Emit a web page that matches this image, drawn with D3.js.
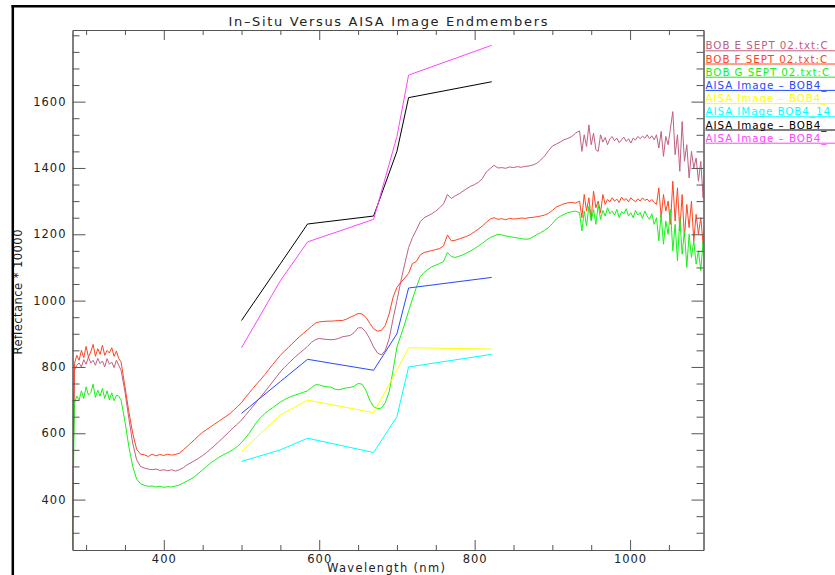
<!DOCTYPE html>
<html>
<head>
<meta charset="utf-8">
<script src="https://cdn.jsdelivr.net/npm/d3@7"></script>
<style>
  body { margin: 0; background: #fff; overflow: hidden; }
  svg text { font-family: 'DejaVu Sans', sans-serif; }
</style>
</head>
<body>
<svg id="chart" width="835" height="575"></svg>
<script>
// wavelengths (nm) of the field spectra
const wlUV = [282,285,288,291,294,297,300,303,306,309,312,315,318,321,324,327,330,333,336,339,342,345];
const wlVis = [350,355,360,365,370,375,380,385,390,395, 400,405,410,415,420,425,430,435,440,445,
  450,455,460,465,470,475,480,485,490,495, 500,505,510,515,520,525,530,535,540,545,
  550,555,560,565,570,575,580,585,590,595, 600,605,610,615,620,625,630,635,640,645,
  650,655,660,665,670,675,680,685,690,695, 700,705,710,715,720,725,730,735,740,745,
  750,755,760,765,770,775,780,785,790,795, 800,805,810,815,820,825,830,835,840,845,
  850,855,860,865,870,875,880,885,890,895, 900,905,910,915,920,925,930,935];
const wlNIR = [938,941,944,947,950,953,956,959,962,965, 968,971,974,977,980,983,986,989,992,995,
  998,1001,1004,1007,1010,1013,1016,1019,1022,1025, 1028,1031,1034,1037,1040,1043,1046,1049,1052,1055,
  1058,1061,1064,1067,1070,1073,1076,1079,1082,1085, 1088,1091,1094,1096];
const wavelengths = wlUV.concat(wlVis, wlNIR);

// reflectance * 10000
const bobE = [
  260,790,805,812,800,822,808,830,812,820,805,826,810,818,800,825,808,815,798,820,805,790,
  725,645,570,520,500,495,492,490,492,488, 490,487,490,486,490,496,505,511,518,525,
  533,542,552,562,573,584,595,607,618,628, 640,654,668,682,697,711,725,740,755,770,
  785,798,810,821,832,842,852,862,874,882, 886,884,883,882,883,886,891,893,895,904,
  918,918,905,885,860,842,836,850,885,945, 1000,1058,1110,1160,1190,1213,1238,1250,1256,1262,
  1270,1280,1292,1320,1308,1316,1322,1330,1338,1345, 1350,1357,1368,1388,1398,1408,1400,1401,1399,1403,
  1401,1404,1402,1405,1406,1409,1414,1424,1436,1452, 1466,1472,1478,1485,1489,1495,1505,1512,
  1450,1500,1465,1530,1470,1505,1455,1450,1500,1478, 1492,1470,1488,1495,1482,1490,1476,1485,1493,1480,
  1488,1475,1490,1484,1495,1488,1496,1490,1500,1488, 1497,1485,1500,1460,1510,1435,1495,1470,1520,1570,
  1440,1500,1390,1540,1420,1470,1370,1450,1400,1430, 1360,1420,1310,1420];
const bobF = [
  240,810,835,820,850,828,862,830,845,868,832,855,838,865,835,850,842,858,832,848,825,815,
  740,665,600,552,537,535,530,537,532,536, 533,537,534,536,540,550,560,571,582,593,
  603,611,619,627,635,643,651,659,670,681, 692,708,722,736,750,763,777,792,807,821,
  835,847,858,870,881,892,902,912,922,932, 936,937,938,938,939,940,940,944,950,955,
  961,960,950,932,915,908,910,925,960,1010, 1040,1055,1068,1082,1112,1118,1138,1145,1148,1151,
  1154,1157,1165,1198,1180,1182,1186,1190,1194,1200, 1208,1216,1225,1236,1246,1250,1245,1247,1244,1248,
  1246,1247,1249,1248,1250,1251,1253,1255,1258,1263, 1272,1282,1287,1292,1295,1296,1294,1300,
  1250,1320,1270,1310,1245,1330,1280,1300,1265,1320, 1290,1305,1298,1310,1300,1306,1296,1312,1302,1308,
  1298,1310,1303,1298,1307,1300,1310,1302,1306,1298, 1305,1296,1290,1340,1250,1320,1270,1300,1230,1360,
  1240,1340,1210,1320,1190,1290,1220,1300,1180,1260, 1200,1250,1170,1240];
const bobG = [
  200,690,712,700,728,705,740,715,722,748,708,730,712,735,705,728,700,722,698,715,712,700,
  635,560,500,462,448,443,440,441,438,440, 437,439,438,441,444,450,456,462,470,480,
  490,500,510,518,526,533,539,545,552,561, 572,586,600,618,635,648,660,669,677,686,
  694,701,707,712,716,720,724,728,738,746, 746,742,740,739,733,731,734,737,738,742,
  750,748,730,700,680,674,676,692,725,790, 860,895,930,968,1005,1040,1072,1085,1094,1102,
  1107,1112,1118,1145,1133,1130,1134,1138,1144,1150, 1157,1165,1173,1182,1190,1195,1200,1198,1195,1193,
  1191,1189,1187,1185,1186,1192,1199,1205,1212,1220, 1232,1246,1254,1260,1265,1268,1270,1265,
  1210,1270,1225,1285,1240,1275,1230,1290,1245,1272, 1255,1280,1262,1270,1258,1275,1250,1268,1262,1277,
  1255,1265,1250,1272,1258,1266,1248,1270,1255,1245, 1262,1230,1250,1180,1260,1170,1240,1200,1275,1150,
  1230,1120,1250,1140,1210,1100,1200,1130,1180,1110, 1150,1090,1180,1120];

// AISA image endmembers (band centres)
const aisaBands = [500, 550, 585, 670, 700, 715, 822];
const aisaBlue = [660, 756, 823, 790, 900, 1038, 1070];
const aisaYellow = [545, 655, 700, 662, 790, 858, 854];
const aisaCyan = [515, 550, 585, 542, 650, 800, 838];
const aisaBlack = [940, 1111, 1231, 1255, 1450, 1612, 1660];
const aisaMagenta = [858, 1060, 1177, 1245, 1495, 1680, 1770];

const legendLabels = ['BOB E SEPT 02.txt:C', 'BOB F SEPT 02.txt:C', 'BOB G SEPT 02.txt:C',
  'AISA Image \u2013 BOB4_', 'AISA Image \u2013 BOB4_', 'AISA IMage BOB4_14',
  'AISA Image \u2013 BOB4_', 'AISA Image \u2013 BOB4_'];
const colors = ['#c0607f', '#ff4422', '#18f018', '#2848ff', '#ffff00', '#00ffff', '#000000', '#ff44ff'];

const xMajor = [400, 600, 800, 1000];
const xMinor = [300, 350, 450, 500, 550, 650, 700, 750, 850, 900, 950, 1050];
const yMajor = [400, 600, 800, 1000, 1200, 1400, 1600];
const yMinor = [300, 350, 450, 500, 550, 650, 700, 750, 850, 900, 950, 1050, 1100, 1150,
  1250, 1300, 1350, 1450, 1500, 1550, 1650, 1700, 1750, 1800];

const svg = d3.select('#chart');

const x = d3.scaleLinear().domain([282.5, 1094.5]).range([72.5, 703.5]);
const y = d3.scaleLinear().domain([248, 1816]).range([550, 30]);

const series = [
  { wl: wavelengths, v: bobE },
  { wl: wavelengths, v: bobF },
  { wl: wavelengths, v: bobG },
  { wl: aisaBands, v: aisaBlue },
  { wl: aisaBands, v: aisaYellow },
  { wl: aisaBands, v: aisaCyan },
  { wl: aisaBands, v: aisaBlack },
  { wl: aisaBands, v: aisaMagenta }
];

svg.append('clipPath').attr('id', 'plotclip')
  .append('rect')
  .attr('x', x.range()[0]).attr('y', y.range()[1])
  .attr('width', x.range()[1] - x.range()[0])
  .attr('height', y.range()[0] - y.range()[1]);

const line = d3.line()
  .x(d => x(d[0]))
  .y(d => y(d[1]));

svg.append('g')
  .attr('clip-path', 'url(#plotclip)')
  .selectAll('path')
  .data(series)
  .enter()
  .append('path')
  .attr('fill', 'none')
  .attr('stroke', (d, i) => colors[i])
  .attr('stroke-width', 1)
  .attr('d', d => line(d.wl.map((w, i) => [w, d.v[i]])));

// axes, ticks pointing inward like the IDL plot
const styleAxis = g => {
  g.select('.domain').attr('stroke', '#555');
  g.selectAll('.tick line').attr('stroke', '#555');
  g.selectAll('.tick text')
    .attr('fill', '#222')
    .attr('font-family', "'DejaVu Sans', sans-serif")
    .attr('font-size', 11.5)
    .style('letter-spacing', '1px');
};

svg.append('g')
  .attr('transform', `translate(0,${y.range()[0]})`)
  .call(d3.axisBottom(x).tickValues(xMajor).tickSize(-10).tickSizeOuter(0).tickPadding(5).tickFormat(d3.format('d')))
  .call(styleAxis);
svg.append('g')
  .attr('transform', `translate(0,${y.range()[0]})`)
  .call(d3.axisBottom(x).tickValues(xMinor).tickSize(-5).tickSizeOuter(0).tickFormat(''))
  .call(styleAxis);
svg.append('g')
  .attr('transform', `translate(0,${y.range()[1]})`)
  .call(d3.axisTop(x).tickValues(xMajor).tickSize(-10).tickSizeOuter(0).tickFormat(''))
  .call(styleAxis);
svg.append('g')
  .attr('transform', `translate(0,${y.range()[1]})`)
  .call(d3.axisTop(x).tickValues(xMinor).tickSize(-5).tickSizeOuter(0).tickFormat(''))
  .call(styleAxis);

svg.append('g')
  .attr('transform', `translate(${x.range()[0]},0)`)
  .call(d3.axisLeft(y).tickValues(yMajor).tickSize(-13).tickSizeOuter(0).tickPadding(6).tickFormat(d3.format('d')))
  .call(styleAxis);
svg.append('g')
  .attr('transform', `translate(${x.range()[0]},0)`)
  .call(d3.axisLeft(y).tickValues(yMinor).tickSize(-7).tickSizeOuter(0).tickFormat(''))
  .call(styleAxis);
svg.append('g')
  .attr('transform', `translate(${x.range()[1]},0)`)
  .call(d3.axisRight(y).tickValues(yMajor).tickSize(-12).tickSizeOuter(0).tickFormat(''))
  .call(styleAxis);
svg.append('g')
  .attr('transform', `translate(${x.range()[1]},0)`)
  .call(d3.axisRight(y).tickValues(yMinor).tickSize(-7).tickSizeOuter(0).tickFormat(''))
  .call(styleAxis);

// titles
svg.append('text')
  .attr('x', 388).attr('y', 26)
  .attr('text-anchor', 'middle')
  .attr('font-size', 13)
  .attr('fill', '#222')
  .attr('textLength', 319).attr('lengthAdjust', 'spacing')
  .text('In\u2013Situ Versus AISA Image Endmembers');

svg.append('text')
  .attr('x', 386).attr('y', 572)
  .attr('text-anchor', 'middle')
  .attr('font-size', 11.5)
  .attr('fill', '#222')
  .attr('textLength', 118).attr('lengthAdjust', 'spacing')
  .text('Wavelength (nm)');

svg.append('text')
  .attr('transform', 'translate(22,292) rotate(-90)')
  .attr('text-anchor', 'middle')
  .attr('font-size', 11.5)
  .attr('fill', '#222')
  .attr('textLength', 125).attr('lengthAdjust', 'spacing')
  .text('Reflectance * 10000');

// legend, kept just inside the right edge
const legend = svg.append('g')
  .selectAll('g')
  .data(legendLabels)
  .enter()
  .append('g')
  .attr('transform', (d, i) => `translate(705.5,${49.3 + i * 13.2})`);

legend.append('text')
  .attr('font-size', 10.3)
  .style('letter-spacing', '0.95px')
  .attr('fill', (d, i) => colors[i])
  .text(d => d);

legend.append('line')
  .attr('x1', 0).attr('x2', 140)
  .attr('y1', 1.5).attr('y2', 1.5)
  .attr('stroke', (d, i) => colors[i])
  .attr('stroke-width', 1);

// outer frame
svg.append('line')
  .attr('x1', 11.5).attr('x2', 835).attr('y1', 6.2).attr('y2', 6.2)
  .attr('stroke', '#000').attr('stroke-width', 2.5);
svg.append('line')
  .attr('x1', 12.8).attr('x2', 12.8).attr('y1', 5).attr('y2', 575)
  .attr('stroke', '#000').attr('stroke-width', 2.5);
</script>
</body>
</html>
